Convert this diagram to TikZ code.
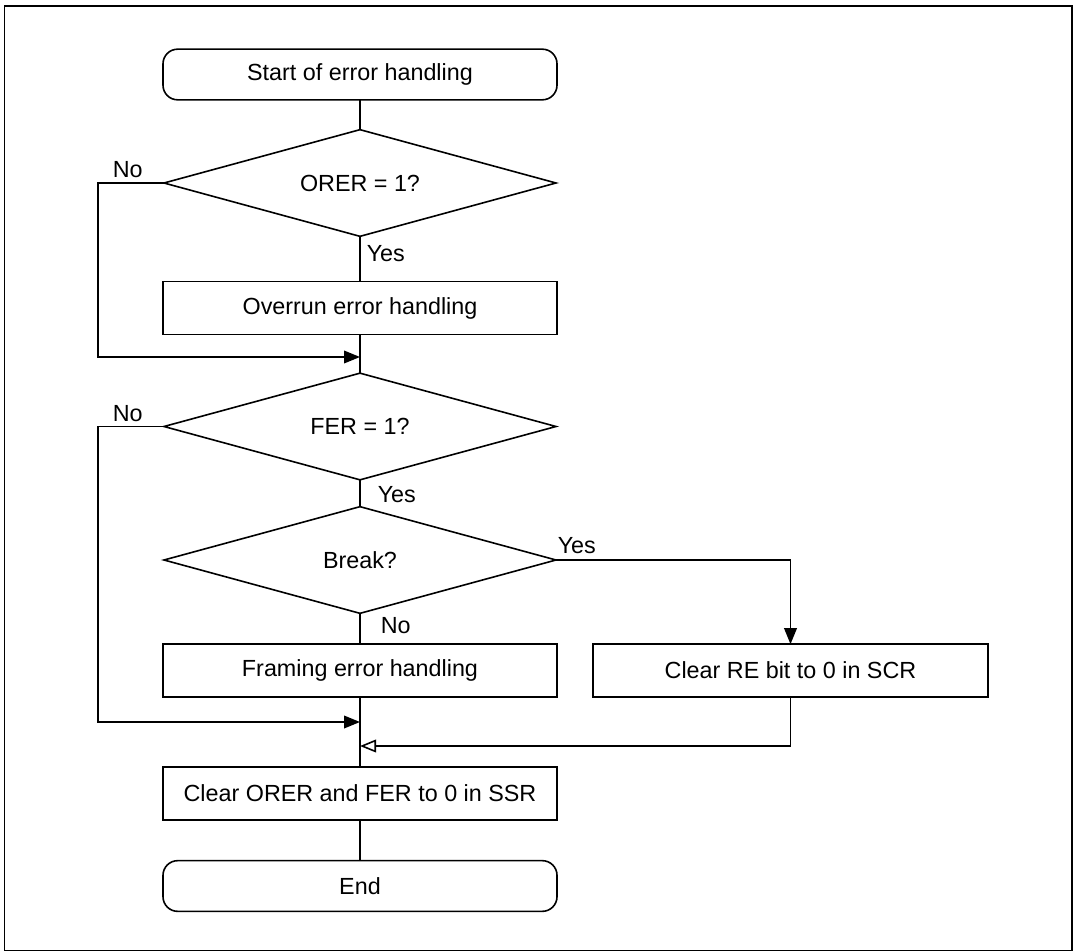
\documentclass[tikz,border=0pt]{standalone}
\usepackage{fontspec}
\setmainfont{Liberation Sans}
\usetikzlibrary{shapes.geometric,arrows.meta}
\begin{document}
\begin{tikzpicture}[x=0.75pt,y=-0.75pt,
  every node/.style={font=\fontsize{17.5}{21}\selectfont},
  every path/.style={line width=1.2pt},
  term/.style={draw,rounded corners=11pt,minimum width=295.5pt,minimum height=38pt,inner sep=0pt,outer sep=0pt},
  proc/.style={draw,minimum width=295.5pt,minimum height=39.5pt,inner sep=0pt,outer sep=0pt},
  dec/.style={draw,diamond,aspect=3.7,minimum width=294pt,minimum height=80pt,inner sep=0pt,outer sep=0pt},
  lbl/.style={inner sep=0pt,anchor=base west},
  farrow/.style={-{Triangle[length=12pt,width=9.5pt]}},
  oarrow/.style={-{Triangle[open,length=12pt,width=9.5pt]}}
]
\useasboundingbox (0,0) rectangle (1081,952);
\draw[line width=1.4pt] (4.5,6) rectangle (1072,950.5);
\node[term] (start) at (360,74.5) {Start of error handling};
\node[dec] (d1) at (360,183) {ORER = 1?};
\node[proc] (over) at (360,308) {Overrun error handling};
\coordinate (m1) at (360,357);
\node[dec] (d2) at (360,426.5) {FER = 1?};
\node[dec] (d3) at (360,560) {Break?};
\node[proc] (fram) at (360,670.5) {Framing error handling};
\node[proc,minimum width=296.25pt] (re) at (790.5,670.5) {Clear RE bit to 0 in SCR};
\coordinate (m2) at (360,722);
\coordinate (m3) at (360,746);
\node[proc] (clr) at (360,793.5) {Clear ORER and FER to 0 in SSR};
\node[term] (end) at (360,886) {End};
\coordinate (lx) at (98,0);
% main flow
\draw (start) -- (d1) -- (over) -- (d2) -- (d3) -- (fram) -- (clr) -- (end);
% No branches
\draw[farrow] (d1.west) -- (d1.west -| lx) |- (m1);
\draw[farrow] (d2.west) -- (d2.west -| lx) |- (m2);
% Break yes
\draw[farrow] (d3.east) -| (re.north);
\draw[oarrow] (re.south) |- (m3);
% labels
\node[lbl] (n1) at (112,178) {No};
\node[lbl] (y1) at (366,262) {Yes};
\node[lbl] (n2) at (112,421) {No};
\node[lbl] (y2) at (377,502) {Yes};
\node[lbl] (y3) at (557,553) {Yes};
\node[lbl] (n3) at (380,633) {No};
\end{tikzpicture}
\end{document}
